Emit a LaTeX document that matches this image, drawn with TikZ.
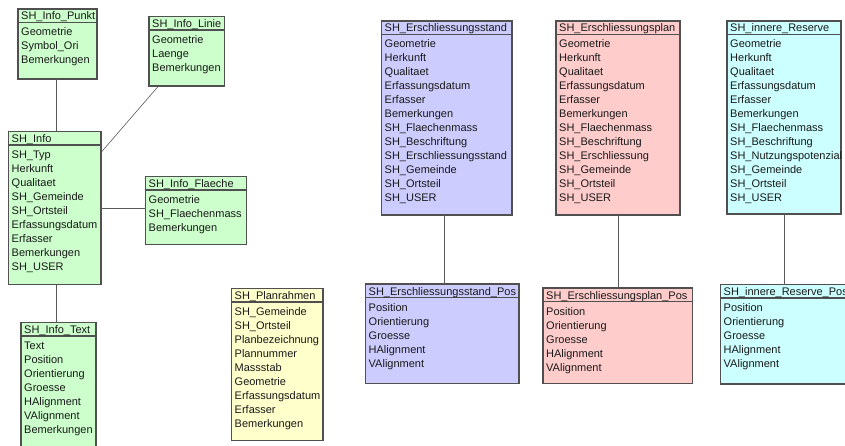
\documentclass[tikz,border=0pt]{standalone}
\usepackage{fontspec}
\setmainfont{Liberation Sans}
\definecolor{fgreen}{RGB}{204,255,204}
\definecolor{fyellow}{RGB}{255,255,204}
\definecolor{fblue}{RGB}{204,204,255}
\definecolor{fpink}{RGB}{255,204,204}
\definecolor{fcyan}{RGB}{204,255,255}
\definecolor{boxgray}{RGB}{80,80,80}
\definecolor{linkgray}{RGB}{90,90,90}
\definecolor{textgray}{RGB}{25,25,25}
\tikzset{
  umlbox/.style={draw=boxgray, line width=1.1pt, inner sep=0pt, outer sep=0pt, anchor=north west},
  umlrule/.style={draw=boxgray, line width=1.1pt},
  umltext/.style={anchor=base west, inner sep=0pt, font=\fontsize{11}{13}\selectfont, text=textgray},
  link/.style={draw=linkgray, line width=0.9pt},
}
% class box: name, x1, y1, x2, y2, fill, title, attribute list
\newcommand{\umlclass}[8]{%
  \node[umlbox, fill=#6, minimum width={(#4-#2)*1pt}, minimum height={(#5-#3)*1pt}] (#1) at (#2,#3) {};
  \draw[umlrule] ([yshift=-13.5pt]#1.north west) -- ([yshift=-13.5pt]#1.north east);
  \node[umltext] (#1-title) at ([xshift=3pt,yshift=-11pt]#1.north west) {#7};
  \foreach \r [count=\i] in {#8}
    \node[umltext] (#1-\i) at ([xshift=3pt,yshift={-27pt-(\i-1)*14pt}]#1.north west) {\r};
}
\begin{document}
\begin{tikzpicture}[x=1pt,y=-1pt]
\useasboundingbox (0,0) rectangle (845,446);
\clip (0,0) rectangle (845,446);

% info cluster
\umlclass{punkt}{18}{9}{97}{79}{fgreen}{SH\_Info\_Punkt}{Geometrie,Symbol\_Ori,Bemerkungen}
\umlclass{linie}{149}{16.5}{224.5}{86}{fgreen}{SH\_Info\_Linie}{Geometrie,Laenge,Bemerkungen}
\umlclass{info}{8.5}{131.5}{101}{284.5}{fgreen}{SH\_Info}{SH\_Typ,Herkunft,Qualitaet,SH\_Gemeinde,SH\_Ortsteil,Erfassungsdatum,Erfasser,Bemerkungen,SH\_USER}
\umlclass{flaeche}{145.5}{176.5}{246.5}{244.5}{fgreen}{SH\_Info\_Flaeche}{Geometrie,SH\_Flaechenmass,Bemerkungen}
\umlclass{itext}{21}{322.5}{96}{450}{fgreen}{SH\_Info\_Text}{Text,Position,Orientierung,Groesse,HAlignment,VAlignment,Bemerkungen}

% plan frame
\umlclass{planrahmen}{231.5}{288.5}{323}{440.5}{fyellow}{SH\_Planrahmen}{SH\_Gemeinde,SH\_Ortsteil,Planbezeichnung,Plannummer,Massstab,Geometrie,Erfassungsdatum,Erfasser,Bemerkungen}

% development tables
\umlclass{stand}{381.5}{21}{512}{215}{fblue}{SH\_Erschliessungsstand}{Geometrie,Herkunft,Qualitaet,Erfassungsdatum,Erfasser,Bemerkungen,SH\_Flaechenmass,SH\_Beschriftung,SH\_Erschliessungsstand,SH\_Gemeinde,SH\_Ortsteil,SH\_USER}
\umlclass{plan}{556}{21}{680}{215}{fpink}{SH\_Erschliessungsplan}{Geometrie,Herkunft,Qualitaet,Erfassungsdatum,Erfasser,Bemerkungen,SH\_Flaechenmass,SH\_Beschriftung,SH\_Erschliessung,SH\_Gemeinde,SH\_Ortsteil,SH\_USER}
\umlclass{reserve}{727}{21}{841}{214}{fcyan}{SH\_innere\_Reserve}{Geometrie,Herkunft,Qualitaet,Erfassungsdatum,Erfasser,Bemerkungen,SH\_Flaechenmass,SH\_Beschriftung,SH\_Nutzungspotenzial,SH\_Gemeinde,SH\_Ortsteil,SH\_USER}

\umlclass{standpos}{365.5}{284}{519}{383.5}{fblue}{SH\_Erschliessungsstand\_Pos}{Position,Orientierung,Groesse,HAlignment,VAlignment}
\umlclass{planpos}{543}{288}{692.5}{383.5}{fpink}{SH\_Erschliessungsplan\_Pos}{Position,Orientierung,Groesse,HAlignment,VAlignment}
\umlclass{reservepos}{720.5}{284.5}{852}{384}{fcyan}{SH\_innere\_Reserve\_Pos}{Position,Orientierung,Groesse,HAlignment,VAlignment}

% connectors
\draw[link] (punkt.south -| 56,0) -- (info.north -| 56,0);
\draw[link, line width=0.6pt] ([xshift=9.5pt]linie.south west) -- ([yshift=-21pt]info.north east);
\draw[link] (info.east |- 0,208.5) -- (flaeche.west |- 0,208.5);
\draw[link] (info.south -| 56,0) -- (itext.north -| 56,0);
\draw[link] (stand.south -| 444.5,0) -- (standpos.north -| 444.5,0);
\draw[link] (plan.south -| 618,0) -- (planpos.north -| 618,0);
\draw[link] (reserve.south -| 784.5,0) -- (reservepos.north -| 784.5,0);
\end{tikzpicture}
\end{document}
